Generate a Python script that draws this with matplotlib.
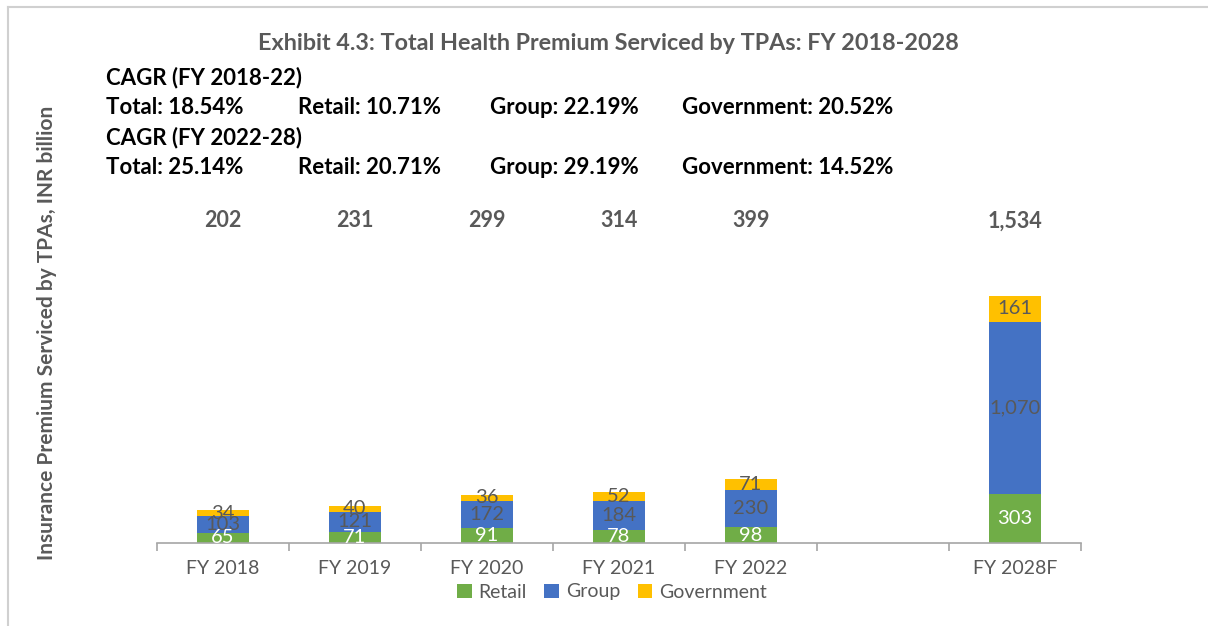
import matplotlib.pyplot as plt
import numpy as np
from matplotlib.lines import Line2D

# Data
years = ['FY 2018', 'FY 2019', 'FY 2020', 'FY 2021', 'FY 2022', '', 'FY 2028F']
retail = [65, 71, 91, 78, 98, np.nan, 303]
group = [103, 121, 172, 184, 230, np.nan, 1070]
government = [34, 40, 36, 52, 71, np.nan, 161]
totals = ['202', '231', '299', '314', '399', '', '1,534']

cagr_lines = [
    ['CAGR (FY 2018-22)'],
    ['Total: 18.54%', 'Retail: 10.71%', 'Group: 22.19%', 'Government: 20.52%'],
    ['CAGR (FY 2022-28)'],
    ['Total: 25.14%', 'Retail: 20.71%', 'Group: 29.19%', 'Government: 14.52%'],
]

plt.rcParams['font.family'] = ['Lato', 'DejaVu Sans']

fig = plt.figure(figsize=(12.08, 6.26), dpi=100)
ax = fig.add_axes([157 / 1208, 83 / 626, 924 / 1208, 340 / 626])

x = np.arange(len(years))
r = np.nan_to_num(retail)
g = np.nan_to_num(group)
gov = np.nan_to_num(government)

b1 = ax.bar(x, r, width=0.4, color='#70AD47', label='Retail')
b2 = ax.bar(x, g, width=0.4, bottom=r, color='#4472C4', label='Group')
b3 = ax.bar(x, gov, width=0.4, bottom=r + g, color='#FFC000', label='Government')

def fmt(v):
    return '' if v == 0 else f'{v:,.0f}'

ax.bar_label(b1, labels=[fmt(v) for v in r], label_type='center', color='white', fontsize=14.5)
ax.bar_label(b2, labels=[fmt(v) for v in g], label_type='center', color='#595959', fontsize=14.5)
ax.bar_label(b3, labels=[fmt(v) for v in gov], label_type='center', color='#595959', fontsize=14.5)

# totals shown in a fixed row above the bars
for xi, t in zip(x, totals):
    ax.text(xi, 2000, t, ha='center', va='center', fontsize=15.5, fontweight='bold', color='#595959')

ax.set_xlim(-0.5, len(years) - 0.5)
ax.set_ylim(0, 2110)
ax.set_xticks(x)
ax.set_xticklabels(years, fontsize=14, color='#595959')
ax.set_xticks(np.arange(len(years) + 1) - 0.5, minor=True)
ax.tick_params(axis='x', which='major', length=0, pad=12)
ax.tick_params(axis='x', which='minor', length=6, color='#A6A6A6', width=1.2, direction='out')
ax.set_yticks([])
for s in ['top', 'right', 'left']:
    ax.spines[s].set_visible(False)
ax.spines['bottom'].set_color('#A6A6A6')
ax.spines['bottom'].set_linewidth(1.2)

fig.text(608 / 1208, 1 - 44 / 626, 'Exhibit 4.3: Total Health Premium Serviced by TPAs: FY 2018-2028',
         ha='center', va='center', fontsize=16.8, fontweight='bold', color='#595959')

col_x = [106, 298, 490, 682]
row_y = [78, 108, 138, 168]
for row, yy in zip(cagr_lines, row_y):
    for txt, xx in zip(row, col_x):
        fig.text(xx / 1208, 1 - yy / 626, txt, ha='left', va='center',
                 fontsize=16, fontweight='bold', color='black')

fig.text(47 / 1208, 1 - 333 / 626, 'Insurance Premium Serviced by TPAs, INR billion',
         rotation=90, ha='center', va='center', fontsize=15, fontweight='bold', color='#595959')

fig.legend(handles=[b1, b2, b3], loc='center', bbox_to_anchor=(612 / 1208, 1 - 592 / 626),
           ncol=3, frameon=False, fontsize=14, handlelength=0.75, handleheight=0.75,
           handletextpad=0.35, columnspacing=0.9, labelcolor='#595959')

# light frame on the left and top
fig.add_artist(Line2D([8 / 1208, 8 / 1208], [0, 1 - 7 / 626], color='#D0D0D0', lw=1.5))
fig.add_artist(Line2D([8 / 1208, 1], [1 - 7 / 626, 1 - 7 / 626], color='#D0D0D0', lw=1.5))

fig.savefig('out.png', dpi=100)
